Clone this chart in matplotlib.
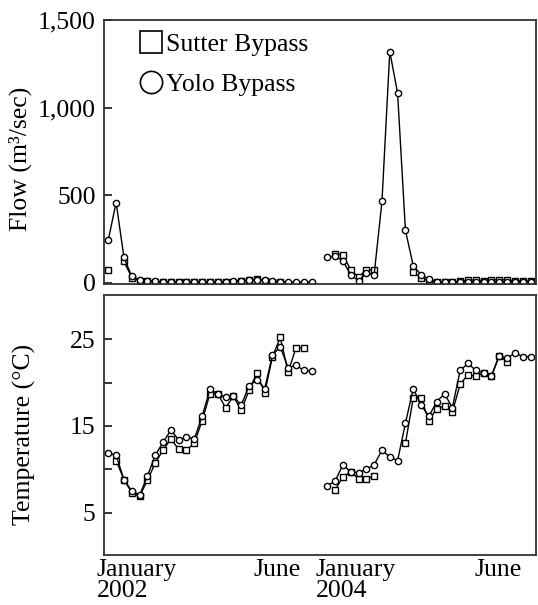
import numpy as np
import matplotlib
matplotlib.use("Agg")
import matplotlib.pyplot as plt
from matplotlib.lines import Line2D
import matplotlib.transforms as mtransforms

plt.rcParams['font.family'] = ['Liberation Serif', 'DejaVu Serif']

nan = np.nan
# sampling index (weekly samples; two seasons plotted side by side)
x_2002 = list(range(0, 27))
x_2004 = list(range(28, 55))

# Flow (m3/sec)
yolo_flow_2002 = [245, 458, 146, 36, 17, 12, 8, 6, 6, 5, 5, 5, 5, 4, 4, 4, 8, 12,
                  15, 18, 15, 10, 6, 4, 4, 4, 4]
sutter_flow_2002 = [74, nan, 122, 30, 12, 10, 4, 3, 3, 3, 3, 3, 3, 3, 3, 3, 6, 12,
                    15, 20, 12, 6, 4, nan, nan, nan, nan]
yolo_flow_2004 = [146, 150, 125, 46, 11, 55, 46, 464, 1320, 1082, 300, 97, 47, 20,
                  5, 3, 3, 5, 5, 5, 5, 5, 5, 5, 5, 5, 5]
sutter_flow_2004 = [nan, 164, 160, 74, 32, 74, 72, nan, nan, nan, nan, 64, 28, 11,
                    5, 2, 3, 10, 15, 15, 12, 15, 18, 15, 12, 10, 10]

# Temperature (deg C)
yolo_temp_2002 = [11.9, 11.6, 8.8, 7.5, 7.0, 9.2, 11.6, 13.1, 14.5, 13.4, 13.7, 13.5,
                  16.1, 19.2, 18.7, 18.3, 18.4, 17.4, 19.6, 20.3, 19.3, 23.2, 24.1,
                  21.7, 22.0, 21.4, 21.3]
sutter_temp_2002 = [nan, 11.0, 8.8, 7.3, 6.9, 8.7, 10.7, 12.2, 13.5, 12.3, 12.2, 13.0,
                    15.6, 18.7, 18.7, 17.1, 18.4, 16.8, 19.1, 21.1, 18.8, 23.0, 25.2,
                    21.2, 24.0, 24.0, nan]
yolo_temp_2004 = [8.1, 8.6, 10.5, 9.7, 9.6, 10.0, 10.5, 12.2, 11.4, 11.0, 15.3, 19.3,
                  17.4, 16.1, 17.8, 18.7, 17.1, 21.4, 22.2, 21.4, 21.1, 20.8, 23.1,
                  22.8, 23.4, 23.0, 23.0]
sutter_temp_2004 = [nan, 7.6, 9.1, 9.7, 8.9, 8.9, 9.2, nan, nan, nan, 13.0, 18.2,
                    18.2, 15.6, 17.0, 17.3, 16.6, 19.8, 20.9, 20.7, 21.1, 20.7, 23.1,
                    22.4, nan, nan, nan]

flow_ticks = [0, 500, 1000, 1500]
flow_ticklabels = ['0', '500', '1,000', '1,500']
temp_major = [5, 15, 25]
temp_minor = [10, 20]

date_label_x = [-1.45, 21.6, 26.5, 49.8]
date_labels = ['January\n2002', 'June', 'January\n2004', 'June']
date_label_ha = ['left', 'center', 'left', 'center']

FS = 18.5
fig = plt.figure(figsize=(5.38, 6.05), dpi=100)
ax1 = fig.add_axes([104/538, 1-284/605, 432/538, 264/605])
ax2 = fig.add_axes([104/538, 1-555/605, 432/538, 260/605])

line_kw = dict(color='black', lw=1.0, mfc='white', mec='black', ms=4.5, mew=1.0)

for ax, series in [(ax1, [(x_2002, sutter_flow_2002, 's'), (x_2002, yolo_flow_2002, 'o'),
                          (x_2004, sutter_flow_2004, 's'), (x_2004, yolo_flow_2004, 'o')]),
                   (ax2, [(x_2002, sutter_temp_2002, 's'), (x_2002, yolo_temp_2002, 'o'),
                          (x_2004, sutter_temp_2004, 's'), (x_2004, yolo_temp_2004, 'o')])]:
    for xs, ys, m in series:
        ax.plot(xs, ys, marker=m, **line_kw)
    ax.set_xlim(-0.55, 54.7)
    ax.set_xticks([])
    for sp in ax.spines.values():
        sp.set_linewidth(1.3)
        sp.set_color('#333333')
    ax.tick_params(axis='y', direction='in', length=6, width=1.1, labelsize=FS, pad=6)
    ax.tick_params(axis='y', which='minor', direction='in', length=6, width=1.1)

ax1.set_ylim(-7, 1500)
ax1.set_yticks(flow_ticks)
ax1.set_yticklabels(flow_ticklabels)
ax1.set_ylabel('Flow (m\u00b3/sec)', fontsize=FS)
ax1.yaxis.set_label_coords(-0.166, 0.473)

ax2.set_ylim(0.1, 30.1)
ax2.set_yticks(temp_major)
ax2.set_yticks(temp_minor, minor=True)
ax2.set_ylabel('Temperature (\u00b0C)', fontsize=FS)
ax2.yaxis.set_label_coords(-0.157, 0.465)

handles = [Line2D([], [], marker='s', ls='none', mfc='white', mec='black', ms=16, mew=1.2),
           Line2D([], [], marker='o', ls='none', mfc='white', mec='black', ms=16, mew=1.2)]
ax1.legend(handles, ['Sutter Bypass', 'Yolo Bypass'], loc='upper left', frameon=False,
           fontsize=FS, handlelength=0.85, handletextpad=0.15, labelspacing=0.68,
           borderaxespad=0.0, bbox_to_anchor=(0.06, 0.99))

trans = mtransforms.blended_transform_factory(ax2.transData, ax2.transAxes)
for xv, lab, ha in zip(date_label_x, date_labels, date_label_ha):
    ax2.text(xv, -0.015, lab, transform=trans, ha=ha, va='top', fontsize=FS,
             linespacing=0.95, multialignment='left', clip_on=False)

fig.savefig('out.png', dpi=100)
